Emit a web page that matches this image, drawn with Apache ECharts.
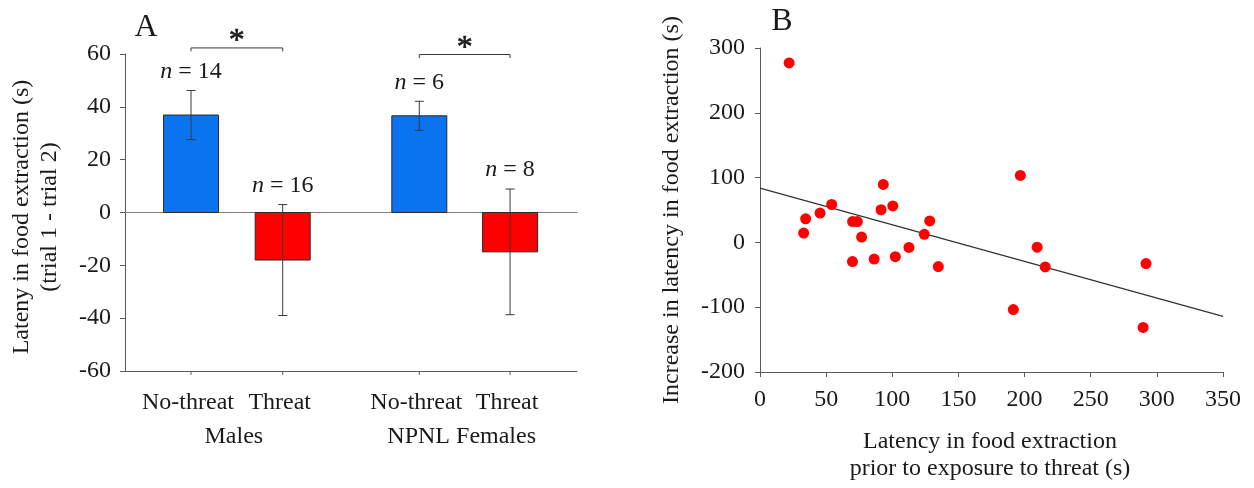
<!DOCTYPE html>
<html>
<head>
<meta charset="utf-8">
<title>Latency in food extraction</title>
<script src="https://cdn.jsdelivr.net/npm/echarts@6/dist/echarts.min.js"></script>
<style>
  html, body { margin: 0; padding: 0; background: #fff; }
  #main { width: 1254px; height: 488px; }
</style>
</head>
<body>
<div id="main"></div>
<script>
// ---------- Panel A: difference in latency (trial 1 - trial 2) ----------
const categories = ['No-threat', 'Threat', 'No-threat', 'Threat'];
const groupNames = ['Males', 'NPNL Females'];
const groupOf = [0, 0, 1, 1];
const meanDiff = [36.9, -18.0, 36.6, -14.9];
const semDiff = [9.3, 21.0, 5.5, 23.8];
const sampleN = [14, 16, 6, 8];
const sigPairs = [[0, 1], [2, 3]];
const sigMarks = ['*', '*'];

// ---------- Panel B: prior latency vs. increase in latency ----------
const priorLatency = [22, 34.5, 33, 45.4, 54.2, 70, 73.6, 76.8, 69.9, 86.3, 93.2, 91.5, 100.4,
  102.3, 112.6, 124.2, 128.3, 134.8, 196.8, 191.5, 209.5, 215.6, 291.8, 289.6];
const latencyIncrease = [277, 36.4, 14.4, 45.3, 58.5, 32.2, 32.2, 8.3, -29.6, -25.7, 89.5, 50.4, 56.3,
  -22, -7.7, 12.4, 33.2, -37.3, 103.4, -103.6, -7.4, -37.8, -32.7, -131.2];
const fitX = [0, 350];
const fitY = [83.8, -114.2];

// ---------- layout & style ----------
const FONT = "'Liberation Serif', 'Times New Roman', serif";
const INK = '#1a1a1a';
const AXIS = '#5a5a5a';
const BLUE = '#0a73f0';
const RED = '#ff0000';
const SLOT_X = [0.72, 1.72, 3.21, 4.2];   // bar slots along panel A's x scale
const X_MAX_A = 4.93;
const BAR_HALF = 0.3;
const BRACKET_Y = [62.3, 59.8];

const barData = categories.map((c, i) => [SLOT_X[i], meanDiff[i], semDiff[i], sampleN[i], i]);
const catData = categories.map((c, i) => [SLOT_X[i], -60, i]);
const groupData = groupNames.map((g, gi) => {
  const xs = SLOT_X.filter((x, i) => groupOf[i] === gi);
  return [(xs[0] + xs[xs.length - 1]) / 2, -60, gi];
});
const sigData = sigPairs.map(([a, b], k) => [SLOT_X[a], SLOT_X[b], BRACKET_Y[k], k]);
const scatterData = priorLatency.map((x, i) => [x, latencyIncrease[i]]);
const fitData = fitX.map((x, i) => [x, fitY[i]]);

const chart = echarts.init(document.getElementById('main'), null, { renderer: 'canvas' });

const textBase = { fontFamily: FONT, fill: INK };

chart.setOption({
  animation: false,
  backgroundColor: '#fff',
  grid: [
    { left: 125, top: 54, width: 452, height: 317 },
    { left: 760, top: 48, width: 463, height: 324 }
  ],
  xAxis: [
    { // zero line of panel A
      gridIndex: 0, type: 'value', min: 0, max: X_MAX_A, position: 'top',
      axisLine: { show: true, onZero: true, lineStyle: { color: '#808080', width: 1 } },
      axisTick: { show: false }, axisLabel: { show: false }, splitLine: { show: false }
    },
    { // bottom frame of panel A
      gridIndex: 0, type: 'value', min: 0, max: X_MAX_A, position: 'bottom',
      axisLine: { show: true, onZero: false, lineStyle: { color: AXIS, width: 1 } },
      axisTick: { show: false }, axisLabel: { show: false }, splitLine: { show: false }
    },
    {
      gridIndex: 1, type: 'value', min: 0, max: 350, interval: 50,
      axisLine: { show: true, onZero: false, lineStyle: { color: AXIS, width: 1 } },
      axisTick: { show: true, inside: false, length: 5, lineStyle: { color: AXIS } },
      axisLabel: { fontFamily: FONT, fontSize: 24, color: INK, margin: 16 },
      splitLine: { show: false }
    }
  ],
  yAxis: [
    {
      gridIndex: 0, type: 'value', min: -60, max: 60, interval: 20,
      axisLine: { show: true, onZero: false, lineStyle: { color: AXIS, width: 1 } },
      axisTick: { show: true, inside: false, length: 5, lineStyle: { color: AXIS } },
      axisLabel: { fontFamily: FONT, fontSize: 24, color: INK, margin: 14 },
      splitLine: { show: false }
    },
    {
      gridIndex: 1, type: 'value', min: -200, max: 300, interval: 100,
      axisLine: { show: true, onZero: false, lineStyle: { color: AXIS, width: 1 } },
      axisTick: { show: true, inside: false, length: 5, lineStyle: { color: AXIS } },
      axisLabel: { fontFamily: FONT, fontSize: 24, color: INK, margin: 15 },
      splitLine: { show: false }
    }
  ],
  series: [
    { // bars
      type: 'custom', xAxisIndex: 1, yAxisIndex: 0, data: barData,
      encode: { x: 0, y: 1 },
      renderItem: (params, api) => {
        const x = api.value(0), y = api.value(1), i = api.value(4);
        const p1 = api.coord([x - BAR_HALF, y]);
        const p2 = api.coord([x + BAR_HALF, 0]);
        return {
          type: 'rect',
          shape: { x: p1[0], y: Math.min(p1[1], p2[1]), width: p2[0] - p1[0], height: Math.abs(p2[1] - p1[1]) },
          style: { fill: categories[i] === 'Threat' ? RED : BLUE, stroke: '#2a2a2a', lineWidth: 1 }
        };
      }
    },
    { // error bars with sample sizes
      type: 'custom', xAxisIndex: 1, yAxisIndex: 0, data: barData,
      encode: { x: 0, y: 1 }, z: 3,
      renderItem: (params, api) => {
        const x = api.value(0), y = api.value(1), e = api.value(2), n = api.value(3);
        const top = api.coord([x, y + e]);
        const bot = api.coord([x, y - e]);
        const cap = 4.5;
        const stroke = { stroke: '#3a3a3a', lineWidth: 1 };
        return {
          type: 'group',
          children: [
            { type: 'line', shape: { x1: top[0], y1: top[1], x2: bot[0], y2: bot[1] }, style: stroke },
            { type: 'line', shape: { x1: top[0] - cap, y1: top[1], x2: top[0] + cap, y2: top[1] }, style: stroke },
            { type: 'line', shape: { x1: bot[0] - cap, y1: bot[1], x2: bot[0] + cap, y2: bot[1] }, style: stroke },
            {
              type: 'text', x: top[0], y: top[1] - 19,
              style: {
                text: '{i|n} = ' + n, align: 'center', verticalAlign: 'middle',
                fontFamily: FONT, fontSize: 24, fill: INK,
                rich: { i: { fontFamily: FONT, fontSize: 24, fontStyle: 'italic', fill: INK } }
              }
            }
          ]
        };
      }
    },
    { // category ticks and labels
      type: 'custom', xAxisIndex: 1, yAxisIndex: 0, data: catData,
      encode: { x: 0, y: 1 },
      renderItem: (params, api) => {
        const p = api.coord([api.value(0), api.value(1)]);
        const i = api.value(2);
        return {
          type: 'group',
          children: [
            { type: 'line', shape: { x1: p[0], y1: p[1], x2: p[0], y2: p[1] + 4 }, style: { stroke: AXIS, lineWidth: 1 } },
            { type: 'text', x: p[0] - 3, y: p[1] + 32,
              style: Object.assign({ text: categories[i], align: 'center', verticalAlign: 'middle', fontSize: 24 }, textBase) }
          ]
        };
      }
    },
    { // group labels
      type: 'custom', xAxisIndex: 1, yAxisIndex: 0, data: groupData,
      encode: { x: 0, y: 1 },
      renderItem: (params, api) => {
        const p = api.coord([api.value(0), api.value(1)]);
        const g = api.value(2);
        return {
          type: 'text', x: p[0] - 3, y: p[1] + 66,
          style: Object.assign({ text: groupNames[g], align: 'center', verticalAlign: 'middle', fontSize: 24 }, textBase)
        };
      }
    },
    { // significance brackets
      type: 'custom', xAxisIndex: 1, yAxisIndex: 0, data: sigData,
      encode: { x: [0, 1], y: 2 },
      renderItem: (params, api) => {
        const a = api.coord([api.value(0), api.value(2)]);
        const b = api.coord([api.value(1), api.value(2)]);
        const k = api.value(3);
        const drop = 3.5;
        return {
          type: 'group',
          children: [
            { type: 'polyline',
              shape: { points: [[a[0], a[1] + drop], [a[0], a[1]], [b[0], b[1]], [b[0], b[1] + drop]] },
              style: { stroke: '#3a3a3a', lineWidth: 1, fill: null } },
            { type: 'text', x: (a[0] + b[0]) / 2, y: a[1] - 6,
              style: Object.assign({ text: sigMarks[k], align: 'center', verticalAlign: 'middle',
                fontSize: 32, stroke: INK, lineWidth: 0.6 }, textBase) }
          ]
        };
      }
    },
    { // scatter of individual animals
      type: 'scatter', xAxisIndex: 2, yAxisIndex: 1, data: scatterData,
      symbol: 'circle', symbolSize: 11,
      itemStyle: { color: RED, opacity: 1 }, z: 3
    },
    { // least-squares fit
      type: 'line', xAxisIndex: 2, yAxisIndex: 1, data: fitData,
      showSymbol: false, symbol: 'none',
      lineStyle: { color: '#333', width: 1.2 }, z: 2
    }
  ],
  graphic: [
    { type: 'text', x: 146, y: 28,
      style: Object.assign({ text: 'A', align: 'center', verticalAlign: 'middle', fontSize: 32 }, textBase) },
    { type: 'text', x: 782, y: 22,
      style: Object.assign({ text: 'B', align: 'center', verticalAlign: 'middle', fontSize: 32 }, textBase) },
    { type: 'text', x: 36, y: 217, rotation: Math.PI / 2,
      style: Object.assign({ text: 'Lateny in food extraction (s)\n(trial 1 - trial 2)', align: 'center',
        verticalAlign: 'middle', fontSize: 24, lineHeight: 28 }, textBase) },
    { type: 'text', x: 672, y: 210, rotation: Math.PI / 2,
      style: Object.assign({ text: 'Increase in latency in food extraction (s)', align: 'center',
        verticalAlign: 'middle', fontSize: 24 }, textBase) },
    { type: 'text', x: 990, y: 455,
      style: Object.assign({ text: 'Latency in food extraction\nprior to exposure to threat (s)', align: 'center',
        verticalAlign: 'middle', fontSize: 24, lineHeight: 27 }, textBase) }
  ]
});
</script>
</body>
</html>
